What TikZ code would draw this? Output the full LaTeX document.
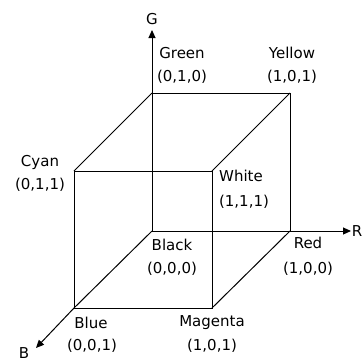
\documentclass[tikz,border=0pt]{standalone}
\usepackage{fontspec}
\setmainfont{DejaVu Sans}
\usetikzlibrary{arrows.meta}
\begin{document}
\begin{tikzpicture}[x=1pt,y=-1pt,
  edge/.style={line width=1pt},
  axis/.style={line width=1pt,-{Triangle[length=8pt,width=7pt]}},
  lbl/.style={inner sep=0pt,font=\fontsize{15}{17}\selectfont}]
\useasboundingbox (0,0) rectangle (363,362);
% vertices
\coordinate (K) at (152,231);
\coordinate (Rd) at (290,231);
\coordinate (Gn) at (152,93);
\coordinate (Y) at (290,93);
\coordinate (C) at (74,171);
\coordinate (W) at (212,171);
\coordinate (Bl) at (74,308);
\coordinate (M) at (212,308);
\coordinate (Gt) at (152,30);
\coordinate (Rt) at (351,231);
\coordinate (Bt) at (36,348);
% cube edges
\draw[edge] (Gn) -- (Y) -- (Rd) -- (K);
\draw[edge] (C) -- (W) -- (M) -- (Bl) -- (C);
\draw[edge] (C) -- (Gn);
\draw[edge] (W) -- (Y);
\draw[edge] (M) -- (Rd);
\draw[edge] (Bl) -- (K);
% axes
\draw[axis] (K) -- (Gt);
\draw[axis] (Rd) -- (Rt);
\draw[axis] (Bl) -- (Bt);
% labels
\node[lbl] (lG) at (152,19) {G};
\node[lbl,anchor=east] (lR) at (362.5,231) {R};
\node[lbl] (lB) at (24,353) {B};
\node[lbl] (green) at (182,53) {Green};
\node[lbl] (green2) at (182,77) {(0,1,0)};
\node[lbl] (yellow) at (292,53) {Yellow};
\node[lbl] (yellow2) at (292,77) {(1,0,1)};
\node[lbl] (cyan) at (40,162) {Cyan};
\node[lbl] (cyan2) at (40,185) {(0,1,1)};
\node[lbl] (white) at (241,176) {White};
\node[lbl] (white2) at (244,202) {(1,1,1)};
\node[lbl] (black) at (172,245) {Black};
\node[lbl] (black2) at (172,269) {(0,0,0)};
\node[lbl] (red) at (308,243) {Red};
\node[lbl] (red2) at (308,269) {(1,0,0)};
\node[lbl] (blue) at (91,323) {Blue};
\node[lbl] (blue2) at (92,346) {(0,0,1)};
\node[lbl] (magenta) at (212,323) {Magenta};
\node[lbl] (magenta2) at (212,346) {(1,0,1)};
\end{tikzpicture}
\end{document}
